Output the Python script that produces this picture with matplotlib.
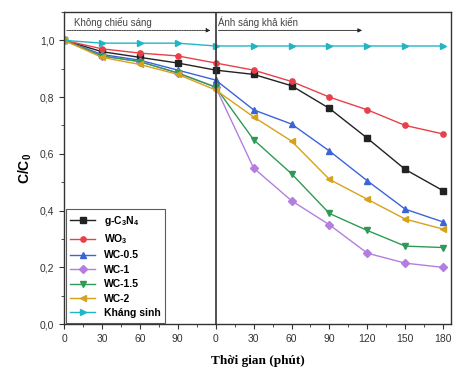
import numpy as np
import matplotlib
matplotlib.use("Agg")
from matplotlib import pyplot as plt
from matplotlib.ticker import FixedLocator, MultipleLocator, FuncFormatter

# time axis: dark phase shown as -120..0, light phase 0..180
time = [-120, -90, -60, -30, 0, 30, 60, 90, 120, 150, 180]
tick_labels = ["0", "30", "60", "90", "0", "30", "60", "90", "120", "150", "180"]

g_c3n4 = [1.0, 0.96, 0.94, 0.92, 0.895, 0.88, 0.84, 0.76, 0.655, 0.545, 0.47]
wo3 = [1.0, 0.97, 0.955, 0.945, 0.92, 0.895, 0.855, 0.80, 0.755, 0.70, 0.67]
wc_05 = [1.0, 0.95, 0.93, 0.895, 0.86, 0.755, 0.705, 0.61, 0.505, 0.405, 0.36]
wc_1 = [1.0, 0.945, 0.925, 0.885, 0.835, 0.55, 0.435, 0.35, 0.25, 0.215, 0.20]
wc_15 = [1.0, 0.945, 0.925, 0.885, 0.835, 0.65, 0.53, 0.39, 0.33, 0.275, 0.27]
wc_2 = [1.0, 0.94, 0.915, 0.88, 0.825, 0.73, 0.645, 0.51, 0.44, 0.37, 0.335]
khang_sinh = [1.0, 0.99, 0.99, 0.99, 0.98, 0.98, 0.98, 0.98, 0.98, 0.98, 0.98]

series = [
    ("g-C$_\\mathbf{3}$N$_\\mathbf{4}$", g_c3n4, "#222222", "s"),
    ("WO$_\\mathbf{3}$", wo3, "#e8404a", "o"),
    ("WC-0.5", wc_05, "#3a64d8", "^"),
    ("WC-1", wc_1, "#b47ee0", "D"),
    ("WC-1.5", wc_15, "#2e9a55", "v"),
    ("WC-2", wc_2, "#d6a21c", "<"),
    ("Kháng sinh", khang_sinh, "#22b6c4", ">"),
]

plt.rcParams["font.family"] = ["Liberation Sans", "DejaVu Sans"]
plt.rcParams["mathtext.fontset"] = "custom"
plt.rcParams["mathtext.rm"] = "Liberation Sans"
plt.rcParams["mathtext.bf"] = "Liberation Sans:bold"

fig = plt.figure(figsize=(4.55, 3.85), dpi=100)
ax = fig.add_axes([0.1407, 0.158, 0.850, 0.811])

for label, vals, color, marker in series:
    ax.plot(time, vals, color=color, marker=marker, markersize=3.8,
            linewidth=1.0, label=label)

ax.axvline(0, color="#333333", linewidth=1.2)

# phase annotations
ax.annotate("", xy=(-2, 1.035), xytext=(-120, 1.035),
            arrowprops=dict(arrowstyle="-|>", color="#222222", lw=0.6,
                            linestyle=(0, (2, 1)), mutation_scale=6))
ax.annotate("", xy=(118, 1.035), xytext=(0, 1.035),
            arrowprops=dict(arrowstyle="-|>", color="#222222", lw=0.6,
                            mutation_scale=6))
ax.text(-112, 1.064, "Không chiếu sáng", fontsize=7, color="#444444",
        va="center")
ax.text(2, 1.064, "Ánh sáng khả kiến", fontsize=7, color="#444444",
        va="center")

ax.set_xlim(-120, 186)
ax.set_ylim(0, 1.1)
ax.xaxis.set_major_locator(FixedLocator(time))
ax.set_xticklabels(tick_labels)
ax.xaxis.set_minor_locator(MultipleLocator(15))
ax.yaxis.set_major_locator(MultipleLocator(0.2))
ax.yaxis.set_minor_locator(MultipleLocator(0.1))
ax.yaxis.set_major_formatter(FuncFormatter(lambda v, p: f"{v:.1f}".replace(".", ",")))
ax.tick_params(which="both", direction="out", labelsize=7.5, colors="#333333",
               top=False, right=False)
ax.tick_params(which="major", length=3.5)
ax.tick_params(which="minor", length=2)
for s in ax.spines.values():
    s.set_linewidth(1.0)
    s.set_color("#333333")

ax.set_ylabel("C/C$_\\mathbf{0}$", fontsize=10, fontweight="bold", labelpad=4)
ax.set_xlabel("Thời gian (phút)", fontsize=9.5, fontweight="bold",
              family=["Liberation Serif", "DejaVu Serif"], labelpad=8)

leg = ax.legend(loc="lower left", fontsize=7.5, frameon=True, fancybox=False,
                edgecolor="#333333", handlelength=2.4, borderpad=0.45,
                labelspacing=0.42, borderaxespad=0.15)
leg.get_frame().set_linewidth(0.8)
for t in leg.get_texts():
    t.set_fontweight("bold")

fig.savefig("out.png", dpi=100)
